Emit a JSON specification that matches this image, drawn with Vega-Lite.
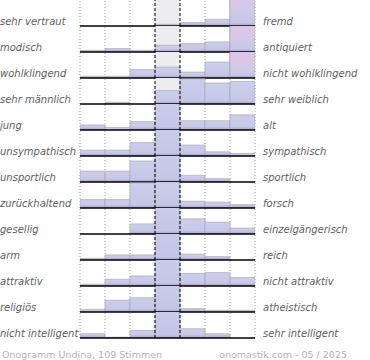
{
  "$schema": "https://vega.github.io/schema/vega-lite/v6.json",
  "padding": {"left": 0, "top": -1, "right": 0, "bottom": 0},
  "background": "white",
  "config": {"view": {"stroke": null}, "font": "DejaVu Sans"},
  "data": {"values": [
    {"row":1,"left":"sehr vertraut","right":"fremd","bin":1,"pct":0},
    {"row":1,"left":"sehr vertraut","right":"fremd","bin":2,"pct":0},
    {"row":1,"left":"sehr vertraut","right":"fremd","bin":3,"pct":0},
    {"row":1,"left":"sehr vertraut","right":"fremd","bin":4,"pct":2},
    {"row":1,"left":"sehr vertraut","right":"fremd","bin":5,"pct":4},
    {"row":1,"left":"sehr vertraut","right":"fremd","bin":6,"pct":8},
    {"row":1,"left":"sehr vertraut","right":"fremd","bin":7,"pct":86},
    {"row":2,"left":"modisch","right":"antiquiert","bin":1,"pct":2},
    {"row":2,"left":"modisch","right":"antiquiert","bin":2,"pct":4},
    {"row":2,"left":"modisch","right":"antiquiert","bin":3,"pct":2},
    {"row":2,"left":"modisch","right":"antiquiert","bin":4,"pct":8},
    {"row":2,"left":"modisch","right":"antiquiert","bin":5,"pct":10},
    {"row":2,"left":"modisch","right":"antiquiert","bin":6,"pct":12},
    {"row":2,"left":"modisch","right":"antiquiert","bin":7,"pct":62},
    {"row":3,"left":"wohlklingend","right":"nicht wohlklingend","bin":1,"pct":2},
    {"row":3,"left":"wohlklingend","right":"nicht wohlklingend","bin":2,"pct":2},
    {"row":3,"left":"wohlklingend","right":"nicht wohlklingend","bin":3,"pct":10},
    {"row":3,"left":"wohlklingend","right":"nicht wohlklingend","bin":4,"pct":13},
    {"row":3,"left":"wohlklingend","right":"nicht wohlklingend","bin":5,"pct":7},
    {"row":3,"left":"wohlklingend","right":"nicht wohlklingend","bin":6,"pct":19},
    {"row":3,"left":"wohlklingend","right":"nicht wohlklingend","bin":7,"pct":47},
    {"row":4,"left":"sehr männlich","right":"sehr weiblich","bin":1,"pct":0},
    {"row":4,"left":"sehr männlich","right":"sehr weiblich","bin":2,"pct":2},
    {"row":4,"left":"sehr männlich","right":"sehr weiblich","bin":3,"pct":0},
    {"row":4,"left":"sehr männlich","right":"sehr weiblich","bin":4,"pct":16},
    {"row":4,"left":"sehr männlich","right":"sehr weiblich","bin":5,"pct":30},
    {"row":4,"left":"sehr männlich","right":"sehr weiblich","bin":6,"pct":25},
    {"row":4,"left":"sehr männlich","right":"sehr weiblich","bin":7,"pct":27},
    {"row":5,"left":"\u00a0jung","right":"alt","bin":1,"pct":6},
    {"row":5,"left":"\u00a0jung","right":"alt","bin":2,"pct":3},
    {"row":5,"left":"\u00a0jung","right":"alt","bin":3,"pct":10},
    {"row":5,"left":"\u00a0jung","right":"alt","bin":4,"pct":41},
    {"row":5,"left":"\u00a0jung","right":"alt","bin":5,"pct":11},
    {"row":5,"left":"\u00a0jung","right":"alt","bin":6,"pct":11},
    {"row":5,"left":"\u00a0jung","right":"alt","bin":7,"pct":18},
    {"row":6,"left":"unsympathisch","right":"sympathisch","bin":1,"pct":7},
    {"row":6,"left":"unsympathisch","right":"sympathisch","bin":2,"pct":7},
    {"row":6,"left":"unsympathisch","right":"sympathisch","bin":3,"pct":16},
    {"row":6,"left":"unsympathisch","right":"sympathisch","bin":4,"pct":49},
    {"row":6,"left":"unsympathisch","right":"sympathisch","bin":5,"pct":13},
    {"row":6,"left":"unsympathisch","right":"sympathisch","bin":6,"pct":5},
    {"row":6,"left":"unsympathisch","right":"sympathisch","bin":7,"pct":3},
    {"row":7,"left":"unsportlich","right":"sportlich","bin":1,"pct":13},
    {"row":7,"left":"unsportlich","right":"sportlich","bin":2,"pct":13},
    {"row":7,"left":"unsportlich","right":"sportlich","bin":3,"pct":25},
    {"row":7,"left":"unsportlich","right":"sportlich","bin":4,"pct":37},
    {"row":7,"left":"unsportlich","right":"sportlich","bin":5,"pct":8},
    {"row":7,"left":"unsportlich","right":"sportlich","bin":6,"pct":4},
    {"row":7,"left":"unsportlich","right":"sportlich","bin":7,"pct":0},
    {"row":8,"left":"zurückhaltend","right":"forsch","bin":1,"pct":10},
    {"row":8,"left":"zurückhaltend","right":"forsch","bin":2,"pct":10},
    {"row":8,"left":"zurückhaltend","right":"forsch","bin":3,"pct":30},
    {"row":8,"left":"zurückhaltend","right":"forsch","bin":4,"pct":31},
    {"row":8,"left":"zurückhaltend","right":"forsch","bin":5,"pct":8},
    {"row":8,"left":"zurückhaltend","right":"forsch","bin":6,"pct":7},
    {"row":8,"left":"zurückhaltend","right":"forsch","bin":7,"pct":4},
    {"row":9,"left":"gesellig","right":"einzelgängerisch","bin":1,"pct":0},
    {"row":9,"left":"gesellig","right":"einzelgängerisch","bin":2,"pct":0},
    {"row":9,"left":"gesellig","right":"einzelgängerisch","bin":3,"pct":12},
    {"row":9,"left":"gesellig","right":"einzelgängerisch","bin":4,"pct":49},
    {"row":9,"left":"gesellig","right":"einzelgängerisch","bin":5,"pct":18},
    {"row":9,"left":"gesellig","right":"einzelgängerisch","bin":6,"pct":14},
    {"row":9,"left":"gesellig","right":"einzelgängerisch","bin":7,"pct":7},
    {"row":10,"left":"arm","right":"reich","bin":1,"pct":2},
    {"row":10,"left":"arm","right":"reich","bin":2,"pct":6},
    {"row":10,"left":"arm","right":"reich","bin":3,"pct":6},
    {"row":10,"left":"arm","right":"reich","bin":4,"pct":75},
    {"row":10,"left":"arm","right":"reich","bin":5,"pct":7},
    {"row":10,"left":"arm","right":"reich","bin":6,"pct":4},
    {"row":10,"left":"arm","right":"reich","bin":7,"pct":0},
    {"row":11,"left":"attraktiv","right":"nicht attraktiv","bin":1,"pct":2},
    {"row":11,"left":"attraktiv","right":"nicht attraktiv","bin":2,"pct":8},
    {"row":11,"left":"attraktiv","right":"nicht attraktiv","bin":3,"pct":12},
    {"row":11,"left":"attraktiv","right":"nicht attraktiv","bin":4,"pct":37},
    {"row":11,"left":"attraktiv","right":"nicht attraktiv","bin":5,"pct":15},
    {"row":11,"left":"attraktiv","right":"nicht attraktiv","bin":6,"pct":16},
    {"row":11,"left":"attraktiv","right":"nicht attraktiv","bin":7,"pct":10},
    {"row":12,"left":"religiös","right":"atheistisch","bin":1,"pct":3},
    {"row":12,"left":"religiös","right":"atheistisch","bin":2,"pct":14},
    {"row":12,"left":"religiös","right":"atheistisch","bin":3,"pct":17},
    {"row":12,"left":"religiös","right":"atheistisch","bin":4,"pct":58},
    {"row":12,"left":"religiös","right":"atheistisch","bin":5,"pct":4},
    {"row":12,"left":"religiös","right":"atheistisch","bin":6,"pct":2},
    {"row":12,"left":"religiös","right":"atheistisch","bin":7,"pct":2},
    {"row":13,"left":"nicht intelligent","right":"sehr intelligent","bin":1,"pct":5},
    {"row":13,"left":"nicht intelligent","right":"sehr intelligent","bin":2,"pct":1},
    {"row":13,"left":"nicht intelligent","right":"sehr intelligent","bin":3,"pct":9},
    {"row":13,"left":"nicht intelligent","right":"sehr intelligent","bin":4,"pct":69},
    {"row":13,"left":"nicht intelligent","right":"sehr intelligent","bin":5,"pct":11},
    {"row":13,"left":"nicht intelligent","right":"sehr intelligent","bin":6,"pct":5},
    {"row":13,"left":"nicht intelligent","right":"sehr intelligent","bin":7,"pct":0}
  ]},
  "facet": {"row": {"field": "row", "type": "ordinal", "header": null}},
  "spacing": 0,
  "bounds": "flush",
  "spec": {
    "width": 175,
    "height": 26,
    "layer": [
      {
        "transform": [{"filter": "datum.bin == 4"}],
        "mark": {"type": "bar", "fill": "#ededf0"},
        "encoding": {
          "x": {"field": "bin", "type": "ordinal", "scale": {"paddingInner": 0, "paddingOuter": 0}, "axis": null},
          "y": {"datum": 0, "type": "quantitative", "scale": {"domain": [0, 31]}, "axis": null},
          "y2": {"datum": 31}
        }
      },
      {
        "transform": [{"filter": "datum.bin != 4 && datum.bin != 5"}],
        "mark": {"type": "rule", "stroke": "#a0a0a0", "strokeWidth": 1, "strokeDash": [1, 2]},
        "encoding": {
          "x": {"field": "bin", "type": "ordinal", "bandPosition": 0, "axis": null},
          "y": {"datum": 0, "type": "quantitative", "scale": {"domain": [0, 31]}, "axis": null},
          "y2": {"datum": 31}
        }
      },
      {
        "transform": [{"filter": "datum.bin == 7"}],
        "mark": {"type": "rule", "stroke": "#a0a0a0", "strokeWidth": 1, "strokeDash": [1, 2]},
        "encoding": {
          "x": {"field": "bin", "type": "ordinal", "bandPosition": 1, "axis": null},
          "y": {"datum": 0, "type": "quantitative", "scale": {"domain": [0, 31]}, "axis": null},
          "y2": {"datum": 31}
        }
      },
      {
        "transform": [{"filter": "datum.pct > 0"}],
        "mark": {"type": "bar", "clip": true, "stroke": "#a8a8bc", "strokeWidth": 0.7,
          "fill": {"x1": 0, "y1": 0, "x2": 0, "y2": 1, "gradient": "linear", "stops": [{"offset": 0, "color": "#cbcfea"}, {"offset": 1, "color": "#c3c5e6"}]}},
        "encoding": {
          "x": {"field": "bin", "type": "ordinal", "axis": null},
          "y": {"field": "pct", "type": "quantitative", "scale": {"domain": [0, 31]}, "axis": null},
          "y2": {"datum": 0}
        }
      },
      {
        "transform": [{"filter": "datum.bin == 7 && datum.pct > 40"}],
        "mark": {"type": "bar", "clip": true, "stroke": "#a8a8bc", "strokeWidth": 0.7,
          "fill": {"x1": 0, "y1": 0, "x2": 0, "y2": 1, "gradient": "linear", "stops": [{"offset": 0, "color": "#dec6e6"}, {"offset": 0.62, "color": "#dbc6e6"}, {"offset": 0.8, "color": "#cccbe9"}, {"offset": 1, "color": "#c4c4e5"}]}},
        "encoding": {
          "x": {"field": "bin", "type": "ordinal", "axis": null},
          "y": {"field": "pct", "type": "quantitative", "scale": {"domain": [0, 31]}, "axis": null},
          "y2": {"datum": 0}
        }
      },
      {
        "transform": [{"filter": "datum.pct >= 3.5"}],
        "mark": {"type": "bar",
          "fill": {"x1": 0, "y1": 0, "x2": 0, "y2": 1, "gradient": "linear", "stops": [{"offset": 0, "color": "rgba(165,148,205,0)"}, {"offset": 1, "color": "rgba(150,130,195,0.6)"}]}},
        "encoding": {
          "x": {"field": "bin", "type": "ordinal", "axis": null},
          "y": {"datum": 0, "type": "quantitative", "scale": {"domain": [0, 31]}, "axis": null},
          "y2": {"datum": 4}
        }
      },
      {
        "transform": [{"filter": "datum.bin == 1"}],
        "mark": {"type": "rule", "stroke": "#000000", "strokeWidth": 1.6},
        "encoding": {
          "y": {"datum": 0, "type": "quantitative", "scale": {"domain": [0, 31]}, "axis": null}
        }
      },
      {
        "transform": [{"filter": "datum.bin == 4 || datum.bin == 5"}],
        "mark": {"type": "rule", "stroke": "#000000", "strokeWidth": 1, "strokeDash": [3, 2]},
        "encoding": {
          "x": {"field": "bin", "type": "ordinal", "bandPosition": 0, "axis": null},
          "y": {"datum": 0, "type": "quantitative", "scale": {"domain": [0, 31]}, "axis": null},
          "y2": {"datum": 31}
        }
      },
      {
        "transform": [{"filter": "datum.bin == 1"}],
        "mark": {"type": "text", "align": "left", "baseline": "alphabetic", "dx": -80, "dy": -1, "fontSize": 10, "fontStyle": "italic", "color": "#606060"},
        "encoding": {
          "x": {"field": "bin", "type": "ordinal", "bandPosition": 0, "axis": null},
          "y": {"datum": 0, "type": "quantitative", "scale": {"domain": [0, 31]}, "axis": null},
          "text": {"field": "left"}
        }
      },
      {
        "transform": [{"filter": "datum.bin == 7"}],
        "mark": {"type": "text", "align": "left", "baseline": "alphabetic", "dx": 8, "dy": -1, "fontSize": 10, "fontStyle": "italic", "color": "#606060"},
        "encoding": {
          "x": {"field": "bin", "type": "ordinal", "bandPosition": 1, "axis": null},
          "y": {"datum": 0, "type": "quantitative", "scale": {"domain": [0, 31]}, "axis": null},
          "text": {"field": "right"}
        }
      },
      {
        "transform": [{"filter": "datum.row == 13 && datum.bin == 1"}],
        "mark": {"type": "text", "align": "left", "baseline": "alphabetic", "dx": -78, "dy": 20, "fontSize": 9.5, "color": "#b4b4b4"},
        "encoding": {
          "x": {"field": "bin", "type": "ordinal", "bandPosition": 0, "axis": null},
          "y": {"datum": 0, "type": "quantitative", "scale": {"domain": [0, 31]}, "axis": null},
          "text": {"value": "Onogramm Undina, 109 Stimmen"}
        }
      },
      {
        "transform": [{"filter": "datum.row == 13 && datum.bin == 7"}],
        "mark": {"type": "text", "align": "right", "baseline": "alphabetic", "dx": 92, "dy": 20, "fontSize": 9.5, "color": "#b4b4b4"},
        "encoding": {
          "x": {"field": "bin", "type": "ordinal", "bandPosition": 1, "axis": null},
          "y": {"datum": 0, "type": "quantitative", "scale": {"domain": [0, 31]}, "axis": null},
          "text": {"value": "onomastik.com - 05 / 2025"}
        }
      }
    ]
  }
}
